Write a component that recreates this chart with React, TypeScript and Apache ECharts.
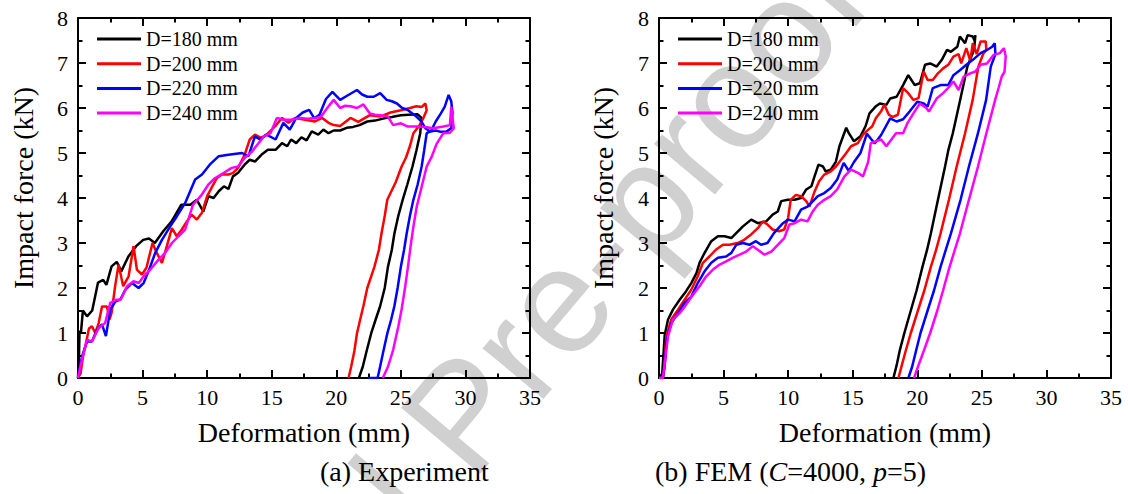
import React, { useEffect, useRef } from 'react';
import * as echarts from 'echarts';

// ---------- data ----------
const seriesNames = ['D=180 mm', 'D=200 mm', 'D=220 mm', 'D=240 mm'];
const seriesColors = ['#000000', '#ff0000', '#0000ff', '#ff00ff'];
const xTickValues = [0, 5, 10, 15, 20, 25, 30, 35];
const yTickValues = [0, 1, 2, 3, 4, 5, 6, 7, 8];

// (a) Experiment: [deformation mm, impact force kN]
const expD180 = [
  [0, 0], [0.08, 0.55], [0.12, 1.05], [0.22, 0.98], [0.38, 1.5], [0.7, 1.37], [1.1, 1.5], [1.55, 2.12], [1.95, 2.18],
  [2.2, 2.07], [2.6, 2.48], [3.0, 2.58], [3.35, 2.37], [3.9, 2.7], [4.5, 2.93], [5.05, 3.07], [5.5, 3.1], [5.95, 3.0],
  [6.6, 3.26], [7.25, 3.48], [8.0, 3.85], [8.7, 3.85], [9.2, 3.96], [9.7, 3.7], [10.1, 4.04], [10.5, 4.0], [10.9, 4.15],
  [11.3, 4.26], [11.65, 4.2], [12.0, 4.48], [12.4, 4.56], [12.9, 4.74], [13.3, 4.85], [13.7, 4.81], [14.2, 4.96],
  [14.7, 5.07], [15.3, 5.07], [15.8, 5.22], [16.2, 5.15], [16.5, 5.3], [16.9, 5.22], [17.3, 5.35], [17.7, 5.28],
  [18.1, 5.48], [18.6, 5.41], [19.0, 5.52], [19.4, 5.44], [19.8, 5.5], [20.3, 5.5], [20.8, 5.56], [21.3, 5.58],
  [21.8, 5.62], [22.4, 5.7], [23.0, 5.72], [23.7, 5.77], [24.3, 5.8], [25.0, 5.84], [25.6, 5.85], [26.3, 5.86],
  [26.6, 5.78], [26.5, 5.44], [26.2, 5.05], [25.9, 4.7], [25.5, 4.3], [25.14, 3.96], [24.8, 3.6], [24.5, 3.21],
  [24.3, 2.85], [24.0, 2.47], [23.75, 2.0], [23.4, 1.6], [23.05, 1.3], [22.7, 0.99], [22.35, 0.6], [22.05, 0.25], [21.75, 0],
];
const expD200 = [
  [0, 0], [0.2, 0.1], [0.4, 0.5], [0.6, 0.75], [0.85, 1.1], [1.08, 1.15], [1.34, 1.0], [1.6, 1.22], [1.86, 1.59],
  [2.24, 1.59], [2.45, 1.3], [2.6, 1.45], [2.89, 2.07], [3.14, 2.52], [3.5, 2.04], [3.92, 2.26], [4.3, 2.93], [4.56, 2.41],
  [4.95, 2.3], [5.3, 2.45], [5.77, 3.0], [6.1, 2.78], [6.5, 2.56], [6.88, 2.93], [7.27, 3.33], [7.65, 3.15], [8.04, 3.3],
  [8.43, 3.48], [8.8, 3.63], [9.2, 3.52], [9.6, 3.67], [10.0, 4.04], [10.4, 4.26], [10.75, 4.44], [11.13, 4.52],
  [11.65, 4.52], [12.0, 4.56], [12.4, 4.67], [12.9, 4.96], [13.3, 5.3], [13.7, 5.41], [14.2, 5.33], [14.6, 5.41],
  [15.26, 5.59], [15.8, 5.78], [16.3, 5.67], [16.8, 5.78], [17.6, 5.74], [18.35, 5.7], [18.9, 5.78], [19.4, 5.67],
  [19.8, 5.62], [20.3, 5.6], [21.1, 5.78], [21.7, 5.69], [22.6, 5.84], [23.4, 5.81], [24.2, 5.9], [25.0, 5.95],
  [25.7, 6.0], [26.2, 6.04], [26.6, 6.02], [26.9, 6.1], [27.0, 5.95], [26.7, 5.75], [26.4, 5.6], [25.97, 5.44],
  [25.7, 5.15], [25.4, 4.9], [25.06, 4.7], [24.6, 4.35], [23.95, 3.96], [23.75, 3.6], [23.5, 3.21], [23.3, 2.85],
  [22.95, 2.47], [22.4, 2.0], [22.1, 1.6], [21.85, 1.3], [21.6, 0.99], [21.4, 0.6], [21.15, 0.25], [20.95, 0],
];
const expD220 = [
  [0, 0], [0.31, 0.48], [0.7, 0.81], [1.08, 0.81], [1.47, 1.07], [1.86, 1.19], [2.16, 0.93], [2.5, 1.52], [2.89, 1.7],
  [3.27, 1.74], [3.66, 1.96], [4.18, 2.11], [4.69, 2.0], [5.08, 2.11], [5.46, 2.37], [5.98, 2.78], [6.5, 3.07],
  [7.14, 3.37], [7.65, 3.59], [8.3, 3.89], [9.07, 4.41], [9.6, 4.52], [10.2, 4.74], [10.9, 4.93], [11.65, 4.96],
  [12.7, 5.0], [13.2, 4.93], [13.7, 5.37], [14.1, 5.3], [14.6, 5.41], [15.3, 5.3], [15.9, 5.67], [16.4, 5.52],
  [16.9, 5.78], [17.4, 5.9], [17.9, 5.96], [18.3, 5.77], [18.7, 5.85], [19.2, 6.2], [19.7, 6.36], [20.3, 6.18],
  [21.0, 6.3], [21.6, 6.4], [22.0, 6.3], [22.4, 6.25], [22.9, 6.25], [23.4, 6.33], [23.9, 6.18], [24.3, 6.15],
  [24.7, 6.1], [25.1, 6.0], [25.5, 5.96], [26.2, 5.81], [26.6, 5.7], [26.9, 5.55], [27.3, 5.47], [27.7, 5.7],
  [28.1, 5.88], [28.4, 6.03], [28.7, 6.29], [28.9, 6.15], [29.0, 5.9], [28.9, 5.55], [28.5, 5.47], [28.1, 5.47],
  [27.7, 5.5], [27.3, 5.48], [27.0, 5.44], [26.8, 5.05], [26.61, 4.7], [26.3, 4.3], [25.97, 3.96], [25.7, 3.6],
  [25.45, 3.21], [25.25, 2.85], [25.0, 2.47], [24.75, 2.0], [24.5, 1.6], [24.25, 1.3], [23.95, 0.99], [23.65, 0.6],
  [23.39, 0.25], [23.2, 0], [22.48, 0],
];
const expD240 = [
  [0, 0], [0.31, 0.41], [0.7, 0.85], [1.08, 0.81], [1.6, 1.11], [2.1, 1.22], [2.5, 1.67], [3.0, 1.74], [3.3, 1.74],
  [3.8, 2.04], [4.3, 2.15], [4.7, 2.11], [5.2, 2.3], [5.6, 2.41], [6.24, 2.63], [6.75, 2.78], [7.27, 3.0], [7.78, 3.15],
  [8.3, 3.3], [8.9, 3.85], [9.5, 4.04], [10.1, 4.3], [10.6, 4.44], [11.3, 4.56], [11.9, 4.67], [12.4, 4.7],
  [12.9, 4.89], [13.5, 5.04], [13.9, 5.19], [14.4, 5.37], [14.9, 5.44], [15.4, 5.78], [15.9, 5.74], [16.5, 5.74],
  [17.2, 5.78], [17.8, 5.76], [18.35, 5.78], [18.8, 5.8], [19.3, 6.0], [19.8, 6.18], [20.3, 6.0], [20.7, 6.05],
  [21.1, 6.04], [21.6, 6.0], [22.1, 6.08], [22.6, 5.88], [23.0, 5.85], [23.4, 5.84], [24.0, 5.81], [24.4, 5.62],
  [25.0, 5.66], [25.5, 5.59], [26.3, 5.59], [27.0, 5.57], [27.5, 5.55], [28.3, 5.59], [28.8, 5.62], [28.9, 6.03],
  [29.05, 5.66], [29.1, 5.55], [28.8, 5.45], [28.29, 5.44], [27.78, 5.21], [27.39, 4.92], [27.0, 4.7], [26.61, 4.25],
  [26.23, 3.81], [25.97, 3.36], [25.75, 2.92], [25.55, 2.47], [25.3, 1.96], [25.05, 1.51], [24.8, 1.14],
  [24.4, 0.62], [24.0, 0.25], [23.6, 0],
];

// (b) FEM (C=4000, p=5)
const femD180 = [
  [0, 0], [0.25, 0.1], [0.44, 0.95], [0.7, 1.3], [1.08, 1.52], [1.6, 1.74], [2.1, 1.93], [2.5, 2.11], [2.9, 2.33],
  [3.14, 2.56], [3.53, 2.78], [4.05, 3.04], [4.56, 3.15], [5.08, 3.15], [5.6, 3.11], [5.98, 3.22], [6.5, 3.37],
  [7.14, 3.52], [7.65, 3.44], [8.3, 3.48], [8.8, 3.63], [9.2, 3.7], [9.46, 3.93], [9.97, 3.96], [10.5, 3.96],
  [11.0, 4.0], [11.4, 4.19], [11.8, 4.26], [12.0, 4.44], [12.35, 4.74], [12.7, 4.7], [12.9, 4.59], [13.3, 4.63],
  [13.7, 4.81], [13.97, 5.15], [14.5, 5.56], [14.7, 5.44], [15.1, 5.26], [15.6, 5.37], [16.0, 5.6], [16.3, 5.88],
  [16.8, 6.04], [17.1, 6.1], [17.6, 6.07], [17.9, 6.21], [18.4, 6.25], [18.9, 6.51], [19.3, 6.73], [19.8, 6.51],
  [20.2, 6.55], [20.6, 6.96], [21.0, 6.99], [21.5, 6.92], [21.9, 7.07], [22.3, 7.29], [22.6, 7.25], [23.1, 7.36],
  [23.3, 7.59], [23.7, 7.44], [23.9, 7.62], [24.3, 7.59], [24.45, 7.48], [24.5, 7.62], [24.4, 7.3], [23.88, 6.92],
  [23.32, 6.18], [22.75, 5.44], [22.41, 5.07], [22.15, 4.7], [21.6, 3.96], [21.05, 3.21], [20.75, 2.84],
  [20.4, 2.47], [19.95, 1.95], [19.5, 1.5], [19.0, 1.0], [18.65, 0.62], [18.4, 0.28], [18.15, 0],
];
const femD200 = [
  [0, 0], [0.3, 0], [0.4, 0.2], [0.57, 0.93], [0.95, 1.3], [1.47, 1.52], [1.98, 1.74], [2.5, 1.96], [3.0, 2.26],
  [3.4, 2.56], [3.9, 2.7], [4.4, 2.85], [4.95, 2.96], [5.46, 2.96], [6.1, 3.0], [6.6, 3.07], [7.14, 3.19], [7.65, 3.33],
  [8.04, 3.48], [8.4, 3.41], [8.8, 3.3], [9.3, 3.26], [9.7, 3.3], [10.0, 3.56], [10.2, 3.96], [10.6, 4.07], [11.0, 4.04],
  [11.4, 3.93], [11.65, 3.81], [12.0, 4.11], [12.4, 4.37], [12.8, 4.52], [13.3, 4.59], [13.7, 4.7], [14.1, 4.85],
  [14.5, 5.0], [14.87, 5.15], [15.4, 5.22], [15.8, 5.41], [16.2, 5.52], [16.5, 5.59], [16.8, 5.78], [17.2, 5.93],
  [17.45, 6.07], [17.8, 5.85], [18.1, 5.8], [18.5, 5.85], [18.9, 6.44], [19.3, 6.33], [19.7, 6.18], [20.1, 6.22],
  [20.5, 6.81], [20.8, 6.62], [21.2, 6.62], [21.6, 6.77], [22.0, 6.88], [22.4, 6.96], [22.8, 7.14], [23.2, 7.2],
  [23.4, 6.99], [23.8, 7.33], [24.1, 7.05], [24.3, 7.44], [24.6, 7.2], [24.9, 7.48], [25.3, 7.48], [25.35, 7.29],
  [25.1, 7.2], [24.73, 6.92], [24.29, 6.18], [23.7, 5.44], [23.05, 4.7], [22.45, 3.96], [21.8, 3.21], [21.45, 2.84],
  [21.05, 2.47], [20.55, 1.95], [20.05, 1.5], [19.5, 1.0], [19.1, 0.6], [18.8, 0.28], [18.54, 0],
];
const femD220 = [
  [0, 0], [0.3, 0], [0.45, 0.3], [0.6, 0.85], [0.95, 1.22], [1.47, 1.44], [1.98, 1.67], [2.5, 1.81], [3.0, 2.11],
  [3.53, 2.37], [4.05, 2.56], [4.56, 2.67], [5.2, 2.7], [5.6, 2.78], [5.98, 2.96], [6.5, 3.0], [7.0, 2.96], [7.5, 3.04],
  [7.9, 2.96], [8.4, 3.0], [8.9, 3.22], [9.6, 3.44], [10.0, 3.52], [10.5, 3.48], [11.0, 3.74], [11.5, 3.81],
  [12.3, 4.04], [12.8, 4.11], [13.3, 4.22], [13.8, 4.41], [14.3, 4.78], [14.7, 4.6], [15.1, 4.8], [15.6, 5.0],
  [16.1, 5.43], [16.7, 5.21], [17.2, 5.4], [17.9, 5.77], [18.4, 5.7], [18.9, 5.75], [19.4, 5.92], [20.0, 6.14],
  [20.5, 6.1], [20.8, 6.03], [21.2, 6.44], [21.8, 6.51], [22.4, 6.51], [22.8, 6.73], [23.3, 6.84], [23.8, 6.96],
  [24.3, 7.07], [24.9, 7.22], [25.4, 7.29], [25.8, 7.36], [26.0, 7.44], [26.05, 7.2], [25.69, 6.92], [25.33, 6.18],
  [24.7, 5.44], [24.0, 4.7], [23.35, 3.96], [22.6, 3.21], [22.2, 2.84], [21.8, 2.47], [21.3, 1.95], [20.8, 1.5],
  [20.25, 1.0], [19.9, 0.6], [19.6, 0.25], [19.31, 0],
];
const femD240 = [
  [0, 0], [0.3, 0], [0.39, 0.19], [0.7, 0.93], [1.08, 1.3], [1.6, 1.44], [2.1, 1.63], [2.63, 1.85], [3.14, 2.04],
  [3.66, 2.26], [4.18, 2.41], [4.7, 2.52], [5.2, 2.59], [5.7, 2.67], [6.24, 2.74], [6.75, 2.81], [7.27, 2.93],
  [7.65, 2.85], [8.17, 2.74], [8.7, 2.81], [9.2, 2.96], [9.7, 3.11], [10.1, 3.41], [10.5, 3.44], [11.0, 3.52],
  [11.5, 3.48], [11.9, 3.7], [12.3, 3.85], [12.8, 3.96], [13.3, 4.04], [13.8, 4.19], [14.36, 4.48], [14.87, 4.63],
  [15.4, 4.56], [15.8, 4.48], [16.2, 4.81], [16.4, 5.22], [16.8, 5.26], [17.2, 5.3], [17.6, 5.15], [18.0, 5.3],
  [18.35, 5.44], [18.9, 5.44], [19.25, 5.67], [19.7, 5.88], [20.2, 6.1], [20.7, 6.0], [20.9, 5.92], [21.5, 6.21],
  [22.0, 6.33], [22.4, 6.45], [22.8, 6.59], [23.2, 6.4], [23.6, 6.7], [24.1, 6.77], [24.5, 6.81], [24.9, 6.96],
  [25.4, 6.99], [25.9, 7.18], [26.4, 7.22], [26.7, 7.33], [26.85, 7.15], [26.75, 6.8], [26.54, 6.7], [26.3, 6.45],
  [26.03, 6.18], [25.35, 5.44], [24.7, 4.7], [24.0, 3.96], [23.3, 3.21], [22.9, 2.84], [22.5, 2.47], [22.0, 1.95],
  [21.55, 1.5], [21.0, 1.0], [20.5, 0.6], [20.05, 0.25], [19.75, 0],
];

const expSeries = [expD180, expD200, expD220, expD240];
const femSeries = [femD180, femD200, femD220, femD240];

// ---------- styling ----------
const SERIF = "'Liberation Serif', 'Times New Roman', Times, serif";
const SANS = "'Liberation Sans', Arial, Helvetica, sans-serif";
const GRID_W = 452;
const GRID_H = 360;
const GRID_TOP = 18;
const GRID_LEFTS = [78, 659];

function xAxisCfg(gridIndex: number, position: string, showLabel: boolean) {
  return {
    type: 'value',
    gridIndex,
    position,
    min: xTickValues[0],
    max: xTickValues[xTickValues.length - 1],
    interval: xTickValues[1] - xTickValues[0],
    axisLine: { show: true, onZero: false, lineStyle: { color: '#000', width: 2 } },
    axisTick: { show: true, inside: true, length: 8, lineStyle: { color: '#000', width: 2 } },
    minorTick: { show: true, splitNumber: 2, length: 4.5, lineStyle: { color: '#000', width: 2 } },
    axisLabel: { show: showLabel, color: '#000', fontSize: 22, fontFamily: SERIF, margin: 8 },
    splitLine: { show: false },
    minorSplitLine: { show: false },
  };
}
function yAxisCfg(gridIndex: number, position: string, showLabel: boolean) {
  return {
    type: 'value',
    gridIndex,
    position,
    min: yTickValues[0],
    max: yTickValues[yTickValues.length - 1],
    interval: yTickValues[1] - yTickValues[0],
    axisLine: { show: true, onZero: false, lineStyle: { color: '#000', width: 2 } },
    axisTick: { show: true, inside: true, length: 8, lineStyle: { color: '#000', width: 2 } },
    minorTick: { show: true, splitNumber: 2, length: 4.5, lineStyle: { color: '#000', width: 2 } },
    axisLabel: { show: showLabel, color: '#000', fontSize: 22, fontFamily: SERIF, margin: 10 },
    splitLine: { show: false },
    minorSplitLine: { show: false },
  };
}

function legendCfg(left: number) {
  return {
    data: seriesNames,
    orient: 'vertical',
    left,
    top: 29,
    padding: 0,
    icon: 'rect',
    itemWidth: 44,
    itemHeight: 3,
    itemGap: 4.7,
    selectedMode: false,
    textStyle: { color: '#000', fontSize: 20, fontFamily: SERIF, lineHeight: 20, padding: [0, 0, 0, 0] },
  };
}

function textEl(text: string, x: number, y: number, size: number, align: string, rotation = 0, extra: any = {}) {
  return {
    type: 'text',
    x,
    y,
    rotation,
    z: 5,
    style: {
      text,
      fill: '#000',
      fontSize: size,
      fontFamily: SERIF,
      textAlign: align,
      textVerticalAlign: 'middle',
      ...extra,
    },
  };
}

export default function App() {
  const ref = useRef<HTMLDivElement>(null);

  useEffect(() => {
    if (!ref.current) return;
    const chart = echarts.init(ref.current, undefined, { renderer: 'svg' });

    const series: any[] = [];
    [expSeries, femSeries].forEach((group, gi) => {
      group.forEach((data, si) => {
        series.push({
          type: 'line',
          name: seriesNames[si],
          xAxisIndex: gi * 2,
          yAxisIndex: gi * 2,
          data,
          showSymbol: false,
          symbol: 'none',
          smooth: false,
          clip: true,
          z: 3 + si,
          lineStyle: { color: seriesColors[si], width: 2.5 },
          itemStyle: { color: seriesColors[si] },
        });
      });
    });

    const option: any = {
      animation: false,
      backgroundColor: '#ffffff',
      grid: GRID_LEFTS.map((left) => ({ left, top: GRID_TOP, width: GRID_W, height: GRID_H, containLabel: false })),
      xAxis: [
        xAxisCfg(0, 'bottom', true),
        xAxisCfg(0, 'top', false),
        xAxisCfg(1, 'bottom', true),
        xAxisCfg(1, 'top', false),
      ],
      yAxis: [
        yAxisCfg(0, 'left', true),
        yAxisCfg(0, 'right', false),
        yAxisCfg(1, 'left', true),
        yAxisCfg(1, 'right', false),
      ],
      legend: [legendCfg(97), legendCfg(678)],
      graphic: {
        elements: [
          {
            type: 'text',
            x: 462,
            y: 415,
            rotation: (50 * Math.PI) / 180,
            z: -10,
            silent: true,
            style: {
              text: 'Journal Pre-proof',
              fill: '#d0d0d0',
              fontSize: 150,
              fontFamily: SANS,
              textAlign: 'center',
              textVerticalAlign: 'middle',
            },
          },
          textEl('Impact force (kN)', 23, 188, 28, 'center', Math.PI / 2),
          textEl('Impact force (kN)', 603, 188, 28, 'center', Math.PI / 2),
          textEl('Deformation (mm)', 304, 432, 28, 'center'),
          textEl('Deformation (mm)', 885, 432, 28, 'center'),
          textEl('(a) Experiment', 320, 471, 28, 'left'),
          textEl('(b) FEM ({i|C}=4000, {i|p}=5)', 655, 471, 28, 'left', 0, {
            rich: { i: { fontStyle: 'italic', fontSize: 28, fontFamily: SERIF, fill: '#000' } },
          }),
        ],
      },
      series,
    };

    chart.setOption(option);
    return () => chart.dispose();
  }, []);

  return (
    <div
      ref={ref}
      style={{ position: 'absolute', left: 0, top: 0, width: 1128, height: 494, background: '#fff' }}
    />
  );
}
